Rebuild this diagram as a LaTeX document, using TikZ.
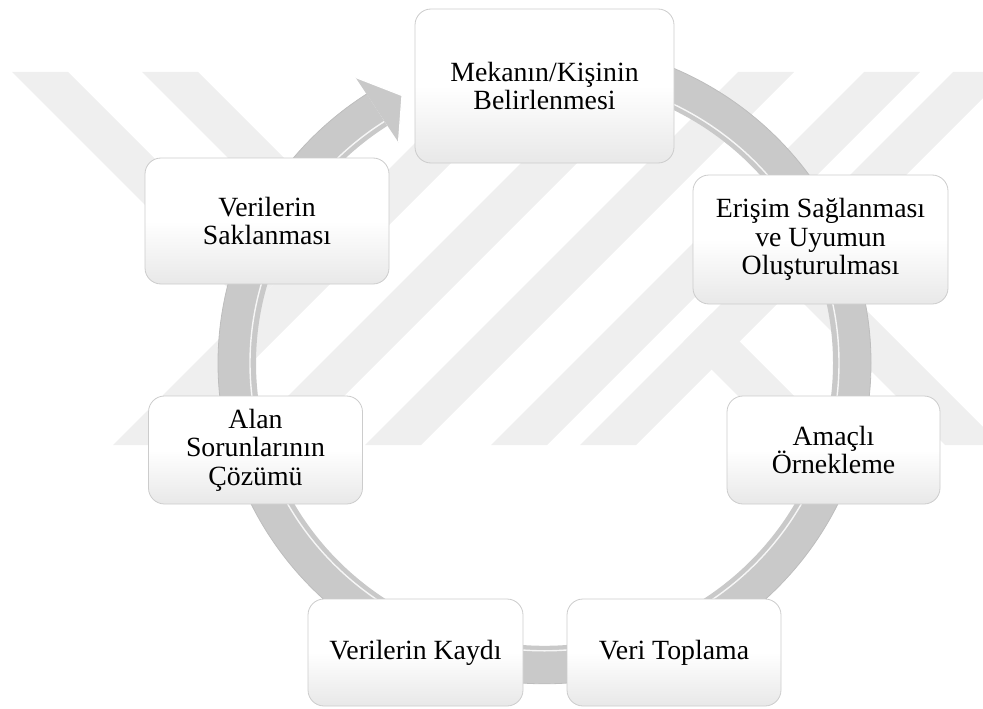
\documentclass[tikz,border=0pt]{standalone}
\usepackage{fontspec}
\setmainfont{Liberation Serif}
\definecolor{ringgray}{HTML}{C9C9C9}
\definecolor{wmgray}{HTML}{EFEFEF}
\begin{document}
\begin{tikzpicture}[x=1pt,y=-1pt,
  stepbox/.style={rectangle, rounded corners=16pt, draw=black!20, line width=0.8pt,
    top color=white, bottom color=black!9, middle color=white,
    align=center, inner sep=0pt, font=\fontsize{27.8}{28.5}\selectfont},
  wm/.style={fill=wmgray, draw=none}]
\useasboundingbox (0,0) rectangle (983,709);

% faint striped emblem in the background
\begin{scope}
  \clip (0,72) rectangle (983,445);
  \foreach \b in {558,684,810,936,1025}
    \fill[wm] (\b-72,72) -- (\b+56-72,72) -- (\b+56-445,445) -- (\b-445,445) -- cycle;
  \foreach \a in {-60,70}
    \fill[wm] (\a+72,72) -- (\a+56+72,72) -- ({(\a+56+558)/2},{(558-\a-56)/2})
      -- ({(\a+558)/2},{(558-\a)/2}) -- cycle;
  \foreach \a in {342,500}
    \fill[wm] ({(\a+1025)/2},{(1025-\a)/2}) -- ({(\a+56+1025)/2},{(1025-\a-56)/2})
      -- (\a+56+445,445) -- (\a+445,445) -- cycle;
\end{scope}

% cycle arrow behind the steps
\draw[ringgray, line width=38pt] (544.5,61.2)
  arc[start angle=-90, end angle=237, x radius=307.5, y radius=301.8];
\draw[black!26, line width=0.8pt] (544.5,42.2)
  arc[start angle=-90, end angle=237, x radius=326.5, y radius=320.8];
\draw[white, line width=1.4pt, opacity=.85] (544.5,75.2)
  arc[start angle=-90, end angle=237, x radius=294.5, y radius=287.8];
\fill[ringgray] (355.5,77.4) -- (402,95.5) -- (398.5,142.4) -- cycle;
\draw[white, line width=1.2pt, line join=round] (355.5,77.4) -- (402,95.5) -- (398.5,142.4);

% steps of the cycle
\node[stepbox, minimum width=259pt, minimum height=154pt] (b1) at (544.5,86)
  {Mekanın/Kişinin\\Belirlenmesi};
\node[stepbox, minimum width=255pt, minimum height=129pt] (b2) at (820.5,239.5)
  {Erişim Sağlanması\\ve Uyumun\\Oluşturulması};
\node[stepbox, minimum width=213pt, minimum height=108pt] (b3) at (833.5,450)
  {Amaçlı\\Örnekleme};
\node[stepbox, minimum width=214pt, minimum height=107pt] (b4) at (674,652.5)
  {Veri Toplama};
\node[stepbox, minimum width=215pt, minimum height=107pt] (b5) at (415.5,652.5)
  {Verilerin Kaydı};
\node[stepbox, minimum width=214pt, minimum height=108pt] (b6) at (255.5,450)
  {Alan\\Sorunlarının\\Çözümü};
\node[stepbox, minimum width=244pt, minimum height=126pt] (b7) at (267,221)
  {Verilerin\\Saklanması};
\end{tikzpicture}
\end{document}
